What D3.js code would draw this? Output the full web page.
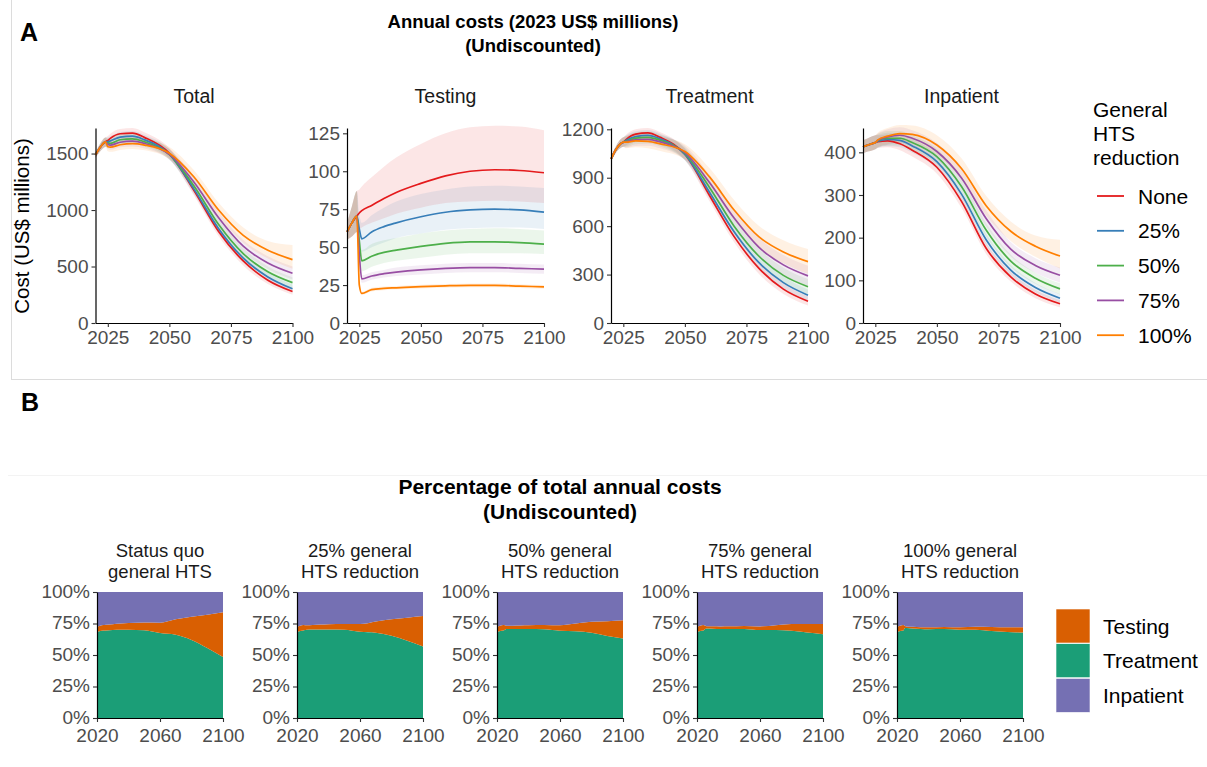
<!DOCTYPE html>
<html>
<head>
<meta charset="utf-8">
<script src="https://cdnjs.cloudflare.com/ajax/libs/d3/7.8.5/d3.min.js"></script>
<style>
  body { margin: 0; background: #fff; }
  svg text { font-family: "Liberation Sans", Arial, sans-serif; }
</style>
</head>
<body>
<script>
// ---- data ----
var years = [2020, 2022, 2024, 2025, 2026, 2030, 2035, 2040, 2050, 2060, 2070, 2080, 2090, 2100];
var scenarios = ["None", "25%", "50%", "75%", "100%"];
var scenarioColors = ["#e41a1c", "#377eb8", "#4daf4a", "#984ea3", "#ff7f00"];
var facetNames = ["Total", "Testing", "Treatment", "Inpatient"];
var panelBTitles = [["Status quo", "general HTS"], ["25% general", "HTS reduction"], ["50% general", "HTS reduction"],
                    ["75% general", "HTS reduction"], ["100% general", "HTS reduction"]];
var componentKeys = ["Testing", "Treatment", "Inpatient"];
var componentColors = ["#d95f02", "#1b9e77", "#7570b3"];

var totalMid = [
  [1488, 1558, 1604, 1616, 1634, 1675, 1680, 1641, 1502, 1172, 810, 549, 379, 279],
  [1488, 1558, 1604, 1605, 1612, 1645, 1654, 1621, 1493, 1185, 835, 574, 408, 303],
  [1488, 1558, 1604, 1594, 1590, 1622, 1630, 1603, 1491, 1213, 872, 614, 453, 357],
  [1488, 1558, 1604, 1582, 1574, 1600, 1609, 1589, 1492, 1246, 932, 680, 531, 440],
  [1488, 1558, 1604, 1560, 1557, 1578, 1588, 1575, 1503, 1292, 1000, 775, 644, 561]
];
var totalLo = [
  [1462, 1522, 1560, 1575, 1595, 1630, 1635, 1597, 1458, 1128, 768, 510, 345, 250],
  [1462, 1522, 1560, 1565, 1572, 1602, 1608, 1578, 1450, 1140, 792, 535, 370, 270],
  [1462, 1522, 1560, 1555, 1550, 1578, 1584, 1560, 1446, 1165, 825, 568, 408, 312],
  [1462, 1522, 1560, 1542, 1534, 1556, 1562, 1544, 1446, 1195, 880, 628, 478, 385],
  [1462, 1522, 1560, 1520, 1515, 1532, 1540, 1528, 1452, 1235, 940, 710, 570, 480]
];
var totalHi = [
  [1512, 1592, 1642, 1655, 1675, 1718, 1725, 1686, 1548, 1218, 855, 592, 414, 312],
  [1512, 1592, 1642, 1645, 1652, 1690, 1700, 1665, 1538, 1232, 880, 618, 448, 340],
  [1512, 1592, 1642, 1635, 1632, 1668, 1676, 1648, 1538, 1262, 920, 662, 500, 405],
  [1512, 1592, 1642, 1624, 1616, 1646, 1656, 1634, 1540, 1300, 985, 735, 590, 500],
  [1512, 1592, 1642, 1602, 1600, 1625, 1636, 1625, 1558, 1352, 1065, 845, 725, 690]
];

var testingMid = [
  [60, 66, 70.5, 72.5, 74, 77.5, 82, 86, 92, 97, 100, 101, 100.5, 99],
  [60, 66, 70.5, 62, 55.5, 60, 63.5, 66, 70, 73, 74.5, 75, 74.5, 73],
  [60, 66, 70.5, 54, 41, 44, 46.5, 48, 50.5, 52.5, 53.5, 53.5, 53, 52],
  [60, 66, 70.5, 45, 29, 31, 32.5, 33.5, 35, 36, 36.5, 36.5, 36, 35.5],
  [60, 66, 70.5, 25, 19.5, 22, 22.8, 23.2, 24, 24.5, 24.8, 24.8, 24.3, 23.8]
];
var testingLo = [
  [55, 57, 60, 62, 63, 66, 69, 72, 76, 79, 80, 80.5, 80, 79],
  [55, 57, 60, 54, 47, 50, 53, 56, 59, 61.5, 62.5, 63, 63, 62],
  [55, 57, 60, 46, 34, 37, 39.5, 41, 43, 45, 46, 46, 46, 45.5],
  [55, 57, 60, 38, 26.5, 28.5, 30, 31, 32, 33, 33.5, 33.5, 33, 32.5],
  [55, 57, 60, 23, 18.5, 20.8, 21.6, 22, 22.8, 23.3, 23.6, 23.6, 23.1, 22.6]
];
var testingHi = [
  [66, 77, 87, 88, 90, 96, 103, 109, 118, 125, 129, 130, 129.5, 127],
  [66, 77, 87, 72, 66, 71, 76, 80, 85, 88, 90, 90.5, 90, 89],
  [66, 77, 87, 62, 48, 52, 54.5, 56, 59, 61, 62, 62.5, 62, 61],
  [66, 77, 87, 52, 31.5, 33.5, 35, 36.5, 38, 39, 39.5, 39.5, 39, 38.5],
  [66, 77, 87, 28, 20.5, 23.2, 24, 24.4, 25.2, 25.7, 26, 26, 25.5, 25]
];

var treatmentMid = [
  [1015, 1075, 1112, 1120, 1135, 1170, 1178, 1150, 1045, 790, 535, 340, 210, 135],
  [1015, 1075, 1112, 1120, 1130, 1155, 1162, 1140, 1045, 810, 565, 375, 250, 172],
  [1015, 1075, 1112, 1120, 1125, 1145, 1150, 1132, 1050, 840, 600, 415, 295, 225],
  [1015, 1075, 1112, 1120, 1122, 1135, 1138, 1122, 1055, 870, 650, 470, 360, 292],
  [1015, 1075, 1112, 1120, 1120, 1128, 1125, 1110, 1062, 905, 700, 535, 440, 380]
];
var treatmentLo = [
  [1000, 1055, 1085, 1092, 1100, 1135, 1143, 1115, 1010, 755, 500, 305, 180, 108],
  [1000, 1055, 1085, 1092, 1095, 1120, 1126, 1104, 1008, 772, 527, 338, 215, 140],
  [1000, 1055, 1085, 1092, 1090, 1108, 1112, 1094, 1010, 798, 558, 370, 250, 180],
  [1000, 1055, 1085, 1092, 1086, 1097, 1098, 1082, 1012, 822, 598, 415, 300, 230],
  [1000, 1055, 1085, 1092, 1082, 1088, 1083, 1066, 1015, 850, 640, 470, 370, 305]
];
var treatmentHi = [
  [1030, 1095, 1140, 1150, 1165, 1200, 1208, 1182, 1080, 825, 572, 378, 245, 165],
  [1030, 1095, 1140, 1150, 1162, 1188, 1195, 1173, 1082, 848, 605, 415, 288, 208],
  [1030, 1095, 1140, 1150, 1158, 1180, 1186, 1168, 1090, 882, 645, 462, 342, 272],
  [1030, 1095, 1140, 1150, 1156, 1172, 1176, 1160, 1098, 918, 704, 528, 422, 355],
  [1030, 1095, 1140, 1150, 1155, 1166, 1165, 1152, 1108, 960, 762, 602, 512, 458]
];

var inpatientMid = [
  [413, 417, 421, 423, 425, 427, 420, 405, 365, 285, 175, 108, 68, 45],
  [413, 417, 421, 423, 426, 430, 428, 415, 378, 302, 195, 124, 83, 58],
  [413, 417, 421, 423, 427, 433, 433, 423, 390, 320, 218, 145, 105, 80],
  [413, 417, 421, 423, 428, 436, 440, 433, 402, 340, 245, 173, 135, 112],
  [413, 417, 421, 423, 429, 438, 444, 442, 417, 362, 275, 215, 180, 157]
];
var inpatientLo = [
  [398, 402, 405, 407, 410, 412, 405, 390, 350, 270, 162, 97, 58, 37],
  [398, 402, 405, 407, 411, 414, 412, 399, 362, 286, 181, 112, 72, 48],
  [398, 402, 405, 407, 411, 416, 416, 406, 372, 302, 202, 131, 92, 67],
  [398, 402, 405, 407, 412, 418, 421, 414, 382, 320, 226, 156, 118, 95],
  [398, 402, 405, 407, 412, 419, 424, 421, 394, 338, 252, 192, 155, 128]
];
var inpatientHi = [
  [428, 433, 438, 440, 440, 442, 436, 420, 380, 300, 188, 120, 78, 54],
  [428, 433, 438, 440, 441, 446, 444, 431, 394, 318, 209, 136, 94, 68],
  [428, 433, 438, 440, 443, 450, 450, 440, 408, 338, 234, 160, 118, 93],
  [428, 433, 438, 440, 444, 454, 459, 452, 422, 360, 264, 190, 152, 130],
  [428, 433, 438, 440, 446, 457, 464, 463, 440, 386, 298, 238, 205, 195]
];

var yTicksA = [[0, 500, 1000, 1500], [0, 25, 50, 75, 100, 125], [0, 300, 600, 900, 1200], [0, 100, 200, 300, 400]];
var yMaxA = [1726, 128.5, 1208, 457];
var xTicksA = [2025, 2050, 2075, 2100];
var xTicksB = [2020, 2060, 2100];
var yTicksB = [0, 0.25, 0.5, 0.75, 1];

// ---- layout ----
var width = 1207, height = 767;
var svg = d3.select("body").append("svg").attr("width", width).attr("height", height);

var panelA = [
  { mid: totalMid, lo: totalLo, hi: totalHi, x0: 95.5 },
  { mid: testingMid, lo: testingLo, hi: testingHi, x0: 347 },
  { mid: treatmentMid, lo: treatmentLo, hi: treatmentHi, x0: 611 },
  { mid: inpatientMid, lo: inpatientLo, hi: inpatientHi, x0: 863 }
];
var plotW = 197, topA = 128, bottomA = 323;

// frame of panel A and faint separator
svg.append("rect").attr("x", 11.5).attr("y", -2).attr("width", 1210).attr("height", 381.5)
  .attr("fill", "none").attr("stroke", "#dcdcdc").attr("stroke-width", 1);
svg.append("line").attr("x1", 8).attr("x2", 1207).attr("y1", 475.5).attr("y2", 475.5)
  .attr("stroke", "#f3f3f3");

function label(txt, x, y, size, opts) {
  opts = opts || {};
  return svg.append("text").attr("x", x).attr("y", y).text(txt)
    .attr("font-size", size + "px")
    .attr("font-weight", opts.bold ? "bold" : null)
    .attr("text-anchor", opts.anchor || "middle")
    .attr("fill", opts.fill || "#000");
}

function styleAxis(g) {
  g.select(".domain").attr("stroke", "#000").attr("stroke-width", 1.2);
  g.selectAll(".tick line").attr("stroke", "#333").attr("stroke-width", 1.1);
  g.selectAll(".tick text").attr("fill", "#4d4d4d").attr("font-size", "19px")
    .attr("font-family", "Liberation Sans, Arial, sans-serif");
}

// titles
label("A", 20, 41, 25, { bold: true, anchor: "start" });
label("Annual costs (2023 US$ millions)", 533, 28, 18.5, { bold: true });
label("(Undiscounted)", 533, 52, 18.5, { bold: true });

svg.append("text").attr("transform", "translate(29,226) rotate(-90)")
  .attr("text-anchor", "middle").attr("font-size", "20.5px").attr("fill", "#000")
  .text("Cost (US$ millions)");

panelA.forEach(function(p, i) {
  var x = d3.scaleLinear().domain([2020, 2100]).range([p.x0, p.x0 + plotW]);
  var y = d3.scaleLinear().domain([0, yMaxA[i]]).range([bottomA, topA]);
  var g = svg.append("g");

  var area = d3.area().curve(d3.curveMonotoneX)
    .x(function(d) { return x(d.year); })
    .y0(function(d) { return y(d.lo); })
    .y1(function(d) { return y(d.hi); });
  var line = d3.line().curve(d3.curveMonotoneX)
    .x(function(d) { return x(d.year); })
    .y(function(d) { return y(d.mid); });

  var series = scenarios.map(function(s, k) {
    return years.map(function(yr, j) {
      return { year: yr, mid: p.mid[k][j], lo: p.lo[k][j], hi: p.hi[k][j] };
    });
  });

  g.selectAll("path.ribbon").data(series).enter().append("path")
    .attr("class", "ribbon")
    .attr("d", area)
    .attr("fill", function(d, k) { return scenarioColors[k]; })
    .attr("fill-opacity", 0.11);

  g.selectAll("path.line").data(series).enter().append("path")
    .attr("class", "line")
    .attr("d", line)
    .attr("fill", "none")
    .attr("stroke", function(d, k) { return scenarioColors[k]; })
    .attr("stroke-width", 1.7);

  var ax = svg.append("g").attr("transform", "translate(0," + bottomA + ")")
    .call(d3.axisBottom(x).tickValues(xTicksA).tickFormat(d3.format("d")).tickSize(4).tickSizeOuter(0).tickPadding(4));
  styleAxis(ax);
  var ay = svg.append("g").attr("transform", "translate(" + p.x0 + ",0)")
    .call(d3.axisLeft(y).tickValues(yTicksA[i]).tickFormat(d3.format("d")).tickSize(4).tickSizeOuter(0).tickPadding(3));
  styleAxis(ay);

  label(facetNames[i], p.x0 + plotW / 2, 103, 19.5, { fill: "#1a1a1a" });
});

// legend A
label("General", 1093, 117, 21, { anchor: "start" });
label("HTS", 1093, 141, 21, { anchor: "start" });
label("reduction", 1093, 165, 21, { anchor: "start" });
var legA = svg.selectAll("g.legA").data(scenarios).enter().append("g")
  .attr("transform", function(d, k) { return "translate(1097," + (196 + k * 34.8) + ")"; });
legA.append("line").attr("x1", 0).attr("x2", 27).attr("y1", 0).attr("y2", 0)
  .attr("stroke", function(d, k) { return scenarioColors[k]; }).attr("stroke-width", 1.8);
legA.append("text").attr("x", 41).attr("y", 7.5).attr("font-size", "21px").attr("fill", "#000")
  .text(function(d) { return d; });

// ---- panel B ----
label("B", 21, 411, 25, { bold: true, anchor: "start" });
label("Percentage of total annual costs", 560, 494, 21, { bold: true });
label("(Undiscounted)", 560, 519, 21, { bold: true });

var topB = 592, bottomB = 718, wB = 126;
var stack = d3.stack().keys(["Treatment", "Testing", "Inpatient"]).offset(d3.stackOffsetExpand);
var stackColor = { Testing: componentColors[0], Treatment: componentColors[1], Inpatient: componentColors[2] };

scenarios.forEach(function(s, k) {
  var x0 = 97 + k * 200;
  var x = d3.scaleLinear().domain([2020, 2100]).range([x0, x0 + wB]);
  var y = d3.scaleLinear().domain([0, 1]).range([bottomB, topB]);
  var rows = years.map(function(yr, j) {
    return { year: yr, Testing: testingMid[k][j], Treatment: treatmentMid[k][j], Inpatient: inpatientMid[k][j] };
  });
  var layers = stack(rows);
  var area = d3.area().curve(d3.curveMonotoneX)
    .x(function(d) { return x(d.data.year); })
    .y0(function(d) { return y(d[0]); })
    .y1(function(d) { return y(d[1]); });
  svg.append("g").selectAll("path").data(layers).enter().append("path")
    .attr("d", area)
    .attr("fill", function(d) { return stackColor[d.key]; });

  var ax = svg.append("g").attr("transform", "translate(0," + bottomB + ")")
    .call(d3.axisBottom(x).tickValues(xTicksB).tickFormat(d3.format("d")).tickSize(4).tickSizeOuter(0).tickPadding(7));
  styleAxis(ax);
  var ay = svg.append("g").attr("transform", "translate(" + x0 + ",0)")
    .call(d3.axisLeft(y).tickValues(yTicksB).tickFormat(d3.format(".0%")).tickSize(4).tickSizeOuter(0).tickPadding(3));
  styleAxis(ay);
  ay.selectAll(".tick text").attr("dy", "0.28em");

  label(panelBTitles[k][0], x0 + wB / 2, 557, 18.5, { fill: "#1a1a1a" });
  label(panelBTitles[k][1], x0 + wB / 2, 578, 18.5, { fill: "#1a1a1a" });
});

// legend B
var legB = svg.selectAll("g.legB").data(componentKeys).enter().append("g")
  .attr("transform", function(d, k) { return "translate(1056," + (609 + k * 34.7) + ")"; });
legB.append("rect").attr("width", 34).attr("height", 34)
  .attr("fill", function(d, k) { return componentColors[k]; })
  .attr("stroke", "#fff").attr("stroke-width", 0.6);
legB.append("text").attr("x", 47).attr("y", 24.5).attr("font-size", "21px").attr("fill", "#000")
  .text(function(d) { return d; });
</script>
</body>
</html>
